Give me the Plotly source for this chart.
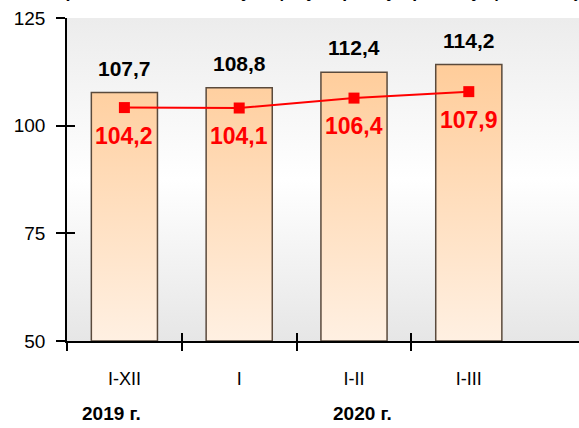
import plotly.graph_objects as go

categories = ["I-XII", "I", "I-II", "I-III"]
bar_values = [107.7, 108.8, 112.4, 114.2]
line_values = [104.2, 104.1, 106.4, 107.9]
year_labels = ["2019 г.", "2020 г."]
year_positions = [-0.11, 2.07]
y_ticks = [50, 75, 100, 125]
title_text = "(в % к соответствующему периоду предыдущего года)"

FONT = "Liberation Sans, Arial, sans-serif"
X_RANGE = [-0.5, 3.96]
Y_RANGE = [50, 125]
HALF_W = 0.288

def fmt(v):
    return f"{v:.1f}".replace(".", ",")

fig = go.Figure()

# plot background gradient
fig.add_trace(go.Scatter(
    x=[X_RANGE[0], X_RANGE[0], X_RANGE[1], X_RANGE[1], X_RANGE[0]],
    y=[Y_RANGE[0], Y_RANGE[1], Y_RANGE[1], Y_RANGE[0], Y_RANGE[0]],
    mode="lines", line=dict(width=0), fill="toself",
    fillgradient=dict(type="vertical", start=Y_RANGE[0], stop=Y_RANGE[1],
                      colorscale=[[0, "#E6E6E6"], [0.5, "#FFFFFF"], [1, "#ECECEC"]]),
    hoverinfo="skip", showlegend=False))

# bars as gradient-filled polygons built from the data
bx, by = [], []
for i, v in enumerate(bar_values):
    bx += [i - HALF_W, i - HALF_W, i + HALF_W, i + HALF_W, i - HALF_W, None]
    by += [Y_RANGE[0], v, v, Y_RANGE[0], Y_RANGE[0], None]
fig.add_trace(go.Scatter(
    x=bx, y=by, mode="lines", line=dict(color="#5A4A3C", width=1.5),
    fill="toself",
    fillgradient=dict(type="vertical", start=Y_RANGE[0], stop=115,
                      colorscale=[[0, "#FFF0E2"], [1, "#FFCC99"]]),
    hoverinfo="skip", showlegend=False))

# red line
fig.add_trace(go.Scatter(
    x=list(range(len(categories))), y=line_values, mode="lines+markers",
    line=dict(color="#FF0000", width=2),
    marker=dict(symbol="square", size=11, color="#FF0000"),
    showlegend=False))

# invisible trace for overlay axes
fig.add_trace(go.Scatter(x=[0], y=[60], xaxis="x2", yaxis="y2",
                         mode="markers", marker=dict(opacity=0),
                         hoverinfo="skip", showlegend=False))

annotations = []
for i, v in enumerate(bar_values):
    annotations.append(dict(x=i, y=v, xref="x", yref="y", text=f"<b>{fmt(v)}</b>",
                            showarrow=False, yanchor="bottom", yshift=11,
                            font=dict(family=FONT, size=21, color="#000000")))
for i, v in enumerate(line_values):
    annotations.append(dict(x=i, y=v, xref="x", yref="y", text=f"<b>{fmt(v)}</b>",
                            showarrow=False, yanchor="middle", yshift=-28,
                            font=dict(family=FONT, size=23, color="#FF0000")))
for t, p in zip(year_labels, year_positions):
    annotations.append(dict(x=p, y=0, xref="x", yref="paper", text=f"<b>{t}</b>",
                            showarrow=False, yanchor="middle", yshift=-72,
                            font=dict(family=FONT, size=19, color="#000000")))
annotations.append(dict(x=0.5, y=1, xref="paper", yref="paper",
                        text=f"<b><i>{title_text}</i></b>", showarrow=False,
                        yanchor="bottom", yshift=15,
                        font=dict(family=FONT, size=18, color="#000000")))

tick_bounds = [-0.5, 0.5, 1.5, 2.5]

fig.update_layout(
    width=579, height=428,
    margin=dict(l=67, r=0, t=18, b=87),
    paper_bgcolor="#FFFFFF", plot_bgcolor="#FFFFFF",
    font=dict(family=FONT, color="#000000"),
    annotations=annotations,
    xaxis=dict(range=X_RANGE, tickmode="array", tickvals=list(range(len(categories))),
               ticktext=categories, ticks="outside", ticklen=8, tickcolor="rgba(0,0,0,0)",
               showgrid=False, zeroline=False, showline=True, linecolor="#000000",
               linewidth=1.5, tickfont=dict(size=18, family=FONT),
               ticklabelstandoff=13,
               minor=dict(tickmode="array", tickvals=tick_bounds, ticks="outside",
                          ticklen=8, tickcolor="#000000", tickwidth=1.5, showgrid=False)),
    xaxis2=dict(range=X_RANGE, overlaying="x", anchor="y", side="bottom",
                tickmode="array", tickvals=tick_bounds, ticks="inside", ticklen=8,
                tickcolor="#000000", tickwidth=1.5, showticklabels=False,
                showgrid=False, zeroline=False, showline=False),
    yaxis=dict(range=Y_RANGE, tickmode="array", tickvals=y_ticks, ticks="outside",
               ticklen=9, tickcolor="#000000", tickwidth=1.5, showgrid=False,
               zeroline=False, showline=True, linecolor="#000000", linewidth=1.5,
               tickfont=dict(size=19, family=FONT), ticklabelstandoff=7),
    yaxis2=dict(range=Y_RANGE, overlaying="y", anchor="x", side="left",
                tickmode="array", tickvals=y_ticks, ticks="inside", ticklen=8,
                tickcolor="#000000", tickwidth=1.5, showticklabels=False,
                showgrid=False, zeroline=False, showline=False),
)

fig.write_html("out.html", config={"displayModeBar": False},
               post_script="document.body.style.margin='0';document.body.style.overflow='hidden';")
